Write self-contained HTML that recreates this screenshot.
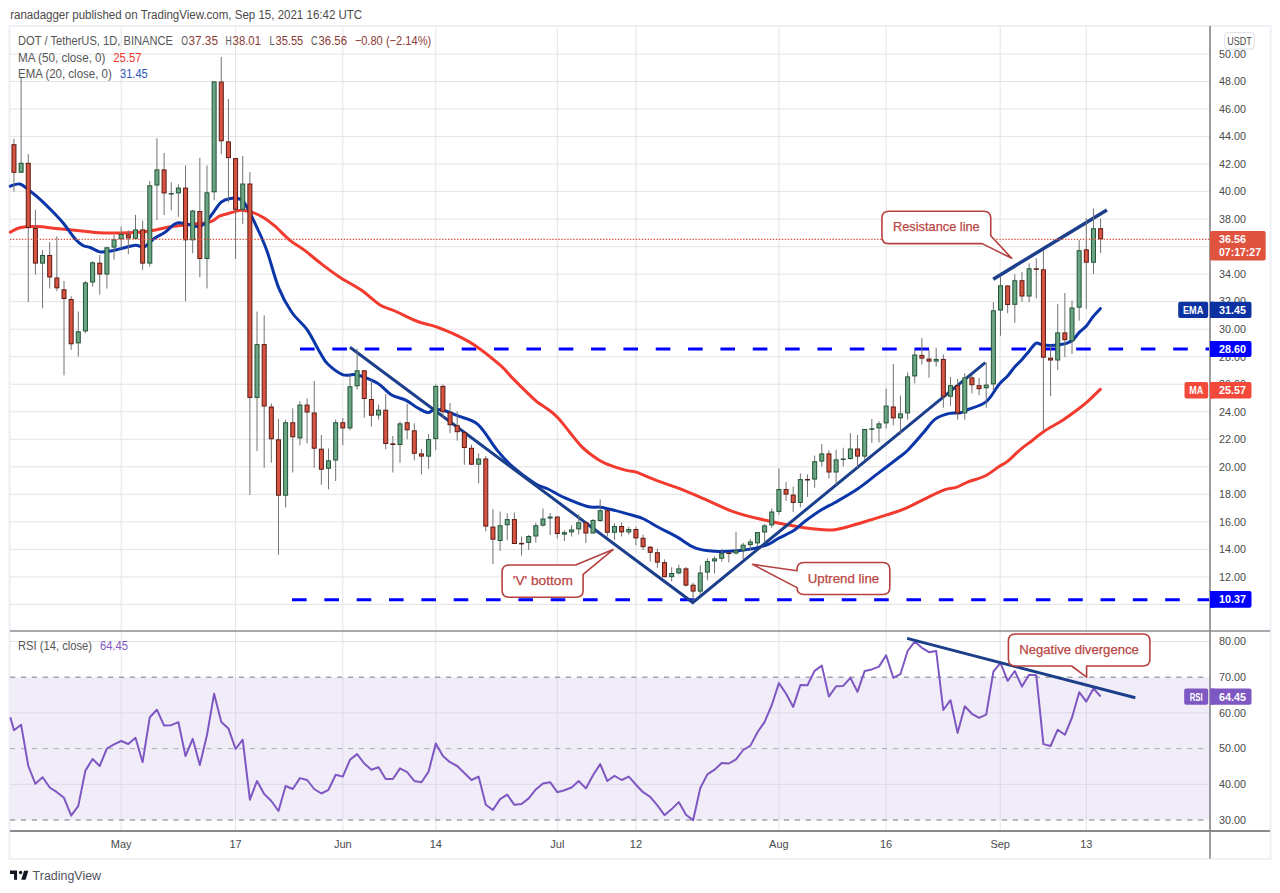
<!DOCTYPE html>
<html><head><meta charset="utf-8"><title>DOT/USDT chart</title>
<style>html,body{margin:0;padding:0;background:#fff;width:1280px;height:893px;overflow:hidden}</style>
</head><body>
<svg width="1280" height="893" viewBox="0 0 1280 893" style="display:block;font-family:'Liberation Sans', sans-serif"><rect x="0" y="0" width="1280" height="893" fill="#ffffff"/><text x="10.2" y="18.8" font-size="12" fill="#4a4a4a" textLength="352" lengthAdjust="spacingAndGlyphs">ranadagger published on TradingView.com, Sep 15, 2021 16:42 UTC</text><rect x="9.5" y="26" width="1261" height="833" fill="none" stroke="#EEF0F5" stroke-width="2"/><path d="M10 604.40H1210 M10 576.88H1210 M10 549.36H1210 M10 521.84H1210 M10 494.32H1210 M10 466.80H1210 M10 439.28H1210 M10 411.76H1210 M10 384.24H1210 M10 356.72H1210 M10 329.20H1210 M10 301.68H1210 M10 274.16H1210 M10 246.64H1210 M10 219.12H1210 M10 191.60H1210 M10 164.08H1210 M10 136.56H1210 M10 109.04H1210 M10 81.52H1210 M10 54.00H1210 M121.20 27V831 M235.60 27V831 M342.80 27V831 M435.80 27V831 M557.30 27V831 M635.90 27V831 M778.90 27V831 M886.10 27V831 M1000.20 27V831 M1086.30 27V831 M10 641.55H1210 M10 712.93H1210 M10 784.31H1210" stroke="#E4E4E6" stroke-width="1" fill="none"/><rect x="10" y="677.24" width="1200" height="142.76" fill="#F1EDF8"/><path d="M10 712.93H1210 M10 784.31H1210 M121.20 677.24V820.00 M235.60 677.24V820.00 M342.80 677.24V820.00 M435.80 677.24V820.00 M557.30 677.24V820.00 M635.90 677.24V820.00 M778.90 677.24V820.00 M886.10 677.24V820.00 M1000.20 677.24V820.00 M1086.30 677.24V820.00" stroke="#DDD8E8" stroke-width="1" fill="none"/><path d="M10 677.24H1210 M10 820.00H1210" stroke="#A3A3AD" stroke-width="1.4" stroke-dasharray="5.2 5.7" fill="none"/><path d="M10 748.62H1210" stroke="#ABABB5" stroke-width="1" stroke-dasharray="5.2 5.7" fill="none"/><path d="M300 349H1209" stroke="#0000FF" stroke-width="3" stroke-dasharray="14.6 17.74" fill="none"/><path d="M292 599.8H1209" stroke="#0000FF" stroke-width="3" stroke-dasharray="14.6 17.74" fill="none"/><path d="M10.3 232.2 C12.0 231.4 16.1 228.4 20.6 227.5 C25.1 226.6 31.6 226.4 37.5 226.6 C43.4 226.8 48.4 227.6 56.2 228.4 C64.1 229.2 77.2 230.5 84.4 231.2 C91.6 232.0 94.7 232.4 99.4 232.8 C104.1 233.1 105.9 233.2 112.5 233.1 C119.1 233.0 131.9 232.7 138.8 232.2 C145.6 231.7 148.8 231.2 153.8 230.3 C158.8 229.5 163.1 228.0 168.8 227.1 C174.4 226.2 180.6 225.6 187.5 224.7 C194.4 223.8 204.7 223.3 210.0 221.9 C215.3 220.5 216.1 217.7 219.4 216.2 C222.7 214.8 226.4 214.0 230.0 213.0 C233.6 212.0 237.2 210.3 241.2 210.3 C245.3 210.3 250.7 211.8 254.4 213.1 C258.1 214.3 260.3 215.6 263.8 217.8 C267.2 220.0 270.6 222.5 275.0 226.2 C279.4 230.0 285.0 236.2 290.0 240.3 C295.0 244.4 300.0 246.8 305.0 250.6 C310.0 254.3 314.1 258.3 320.0 262.8 C325.9 267.3 333.7 273.3 340.6 277.8 C347.5 282.3 354.7 285.5 361.2 290.0 C367.8 294.5 374.4 301.5 380.0 305.0 C385.6 308.5 388.8 308.2 395.0 311.0 C401.2 313.8 411.2 319.1 417.5 321.5 C423.8 323.9 428.4 324.4 432.5 325.6 C436.6 326.9 437.9 327.4 441.9 329.0 C445.9 330.6 450.6 332.2 456.3 335.1 C462.1 338.0 469.1 341.4 476.4 346.4 C483.7 351.4 493.9 359.7 500.2 365.2 C506.5 370.7 508.1 373.8 514.0 379.6 C519.9 385.5 530.3 395.8 535.3 400.3 C540.3 404.8 540.3 403.6 544.1 406.6 C547.9 409.5 551.6 411.1 557.9 417.8 C564.2 424.5 574.9 439.8 581.9 446.9 C588.9 454.0 594.4 457.1 599.7 460.4 C605.0 463.7 608.9 464.9 613.8 466.6 C618.6 468.4 625.0 470.0 628.8 470.9 C632.5 471.8 631.6 470.6 636.2 472.2 C640.9 473.8 650.3 478.1 656.9 480.6 C663.5 483.1 668.4 484.4 675.6 487.2 C682.8 489.9 690.3 493.0 700.0 497.1 C709.7 501.2 722.8 508.0 733.8 511.9 C744.7 515.8 756.6 518.1 765.6 520.3 C774.6 522.5 780.2 523.6 788.0 525.0 C795.8 526.4 804.7 528.0 812.5 528.8 C820.3 529.5 826.6 530.8 835.0 529.7 C843.4 528.6 854.2 524.7 863.0 522.2 C871.8 519.7 880.3 517.1 887.5 514.7 C894.7 512.4 900.0 510.8 906.2 508.1 C912.5 505.4 918.7 501.8 925.0 498.8 C931.3 495.7 939.1 491.6 944.3 489.8 C949.5 487.9 952.2 488.6 956.0 487.4 C959.8 486.2 962.2 484.2 967.0 482.3 C971.8 480.4 979.8 478.6 985.0 476.0 C990.2 473.4 994.6 469.5 998.4 467.0 C1002.2 464.5 1004.2 464.0 1007.8 461.1 C1011.4 458.2 1015.9 453.3 1020.0 449.8 C1024.1 446.3 1028.6 443.3 1032.6 440.2 C1036.6 437.1 1038.9 434.7 1043.9 431.4 C1048.9 428.1 1057.1 423.8 1062.7 420.2 C1068.3 416.6 1073.5 412.6 1077.7 409.5 C1081.9 406.4 1084.0 404.7 1087.8 401.4 C1091.6 398.0 1098.2 391.4 1100.3 389.4" fill="none" stroke="#F23A2E" stroke-width="3" stroke-linejoin="round" stroke-linecap="round"/><path d="M10.3 186.2 C11.9 185.9 16.4 183.2 19.7 184.0 C23.0 184.8 26.4 188.3 30.0 191.0 C33.6 193.7 37.2 196.6 41.2 200.3 C45.3 204.0 50.6 209.5 54.4 213.4 C58.1 217.3 60.3 219.5 63.8 223.8 C67.2 228.0 71.9 235.2 75.0 238.8 C78.1 242.3 80.0 243.8 82.5 245.3 C85.0 246.8 87.4 246.4 90.3 247.5 C93.2 248.6 96.6 251.3 99.7 251.9 C102.8 252.5 105.5 251.8 109.0 251.3 C112.5 250.8 116.0 249.8 120.4 248.8 C124.8 247.8 131.4 245.6 135.4 245.3 C139.4 245.0 141.1 248.0 144.2 246.9 C147.3 245.8 150.3 241.2 153.8 238.8 C157.2 236.3 160.9 234.9 165.0 232.2 C169.1 229.5 172.8 223.7 178.1 222.8 C183.4 221.9 192.5 226.4 196.9 226.6 C201.3 226.8 201.9 225.8 204.4 223.8 C206.9 221.7 209.1 218.0 211.9 214.4 C214.7 210.8 218.1 204.9 221.2 202.2 C224.4 199.5 227.6 198.9 230.6 198.4 C233.6 197.9 237.0 198.1 239.4 199.0 C241.8 199.9 241.9 198.6 245.0 203.8 C248.1 208.9 254.4 221.9 258.1 230.0 C261.9 238.1 264.1 242.8 267.5 252.5 C270.9 262.2 274.7 278.1 278.8 288.1 C282.8 298.1 287.2 305.6 291.9 312.5 C296.6 319.4 302.2 322.7 306.9 329.4 C311.6 336.1 316.6 346.8 320.0 352.5 C323.4 358.2 323.8 360.1 327.5 363.8 C331.2 367.4 338.1 372.8 342.5 374.6 C346.9 376.4 350.6 374.4 353.8 374.6 C356.9 374.8 357.2 374.5 361.2 376.0 C365.3 377.5 373.0 380.3 378.0 383.4 C383.0 386.5 386.5 391.9 391.2 394.7 C396.0 397.5 401.9 398.1 406.2 400.3 C410.6 402.5 413.9 405.8 417.5 407.8 C421.1 409.8 425.0 412.2 427.8 412.5 C430.6 412.8 431.4 409.9 434.4 409.7 C437.4 409.4 441.5 409.9 445.6 411.0 C449.7 412.1 453.4 414.0 458.8 416.2 C464.1 418.5 471.3 418.7 477.8 424.4 C484.3 430.1 491.7 443.6 497.5 450.6 C503.3 457.6 506.2 461.1 512.5 466.6 C518.8 472.1 529.1 479.7 535.0 483.4 C540.9 487.1 543.0 486.6 548.0 489.0 C553.0 491.4 558.4 495.0 565.0 497.9 C571.6 500.8 581.6 504.9 587.5 506.5 C593.4 508.1 595.9 506.6 600.6 507.2 C605.3 507.9 610.3 509.3 615.6 510.6 C620.9 511.9 627.8 513.9 632.5 515.3 C637.2 516.7 639.4 517.0 643.8 519.0 C648.1 521.0 653.2 524.5 658.8 527.5 C664.3 530.5 670.8 533.5 676.9 536.9 C683.0 540.3 689.2 545.7 695.6 548.1 C702.0 550.5 708.0 550.8 715.0 551.2 C722.0 551.7 730.9 551.2 737.5 550.7 C744.1 550.2 749.1 549.6 754.4 548.4 C759.7 547.2 765.3 545.5 769.4 543.8 C773.5 542.0 774.7 540.3 778.8 538.1 C782.8 535.9 789.4 533.4 793.8 530.6 C798.1 527.8 800.3 524.8 805.0 521.2 C809.7 517.8 816.9 512.7 821.9 509.6 C826.9 506.5 829.1 505.9 835.0 502.5 C840.9 499.1 850.3 493.9 857.5 489.0 C864.7 484.1 871.1 478.6 878.0 473.4 C884.9 468.1 893.8 461.4 898.8 457.5 C903.8 453.6 903.9 454.1 908.0 450.0 C912.1 445.9 918.6 438.2 923.1 433.1 C927.6 428.0 930.8 422.4 935.2 419.1 C939.6 415.8 945.4 414.4 949.6 413.4 C953.8 412.3 957.2 413.4 960.2 412.8 C963.3 412.2 963.5 411.6 967.8 409.7 C972.1 407.8 981.1 405.8 986.3 401.6 C991.5 397.4 995.2 389.0 998.8 384.7 C1002.3 380.4 1004.9 378.9 1007.6 375.9 C1010.3 372.9 1012.8 369.1 1015.1 366.5 C1017.4 363.9 1019.1 362.7 1021.4 360.2 C1023.7 357.7 1026.5 354.2 1028.9 351.4 C1031.3 348.6 1033.7 344.4 1035.8 343.3 C1037.9 342.2 1039.0 344.1 1041.4 344.5 C1043.8 344.9 1047.1 345.4 1050.2 345.4 C1053.3 345.4 1057.5 344.9 1060.2 344.5 C1063.0 344.1 1064.3 344.1 1066.5 343.3 C1068.7 342.5 1071.3 341.3 1073.4 339.5 C1075.5 337.7 1076.8 334.9 1079.0 332.6 C1081.2 330.3 1084.3 328.3 1086.6 325.7 C1088.9 323.1 1090.5 319.9 1092.8 317.0 C1095.1 314.1 1099.1 310.0 1100.4 308.6" fill="none" stroke="#0B36AA" stroke-width="3" stroke-linejoin="round" stroke-linecap="round"/><path d="M350 347.3 L692.8 602.5 L985.3 362.6" stroke="#1B3F8B" stroke-width="3" fill="none" stroke-linejoin="miter"/><path d="M993.2 279.2 L1106.9 210" stroke="#1B3F8B" stroke-width="3.5" fill="none"/><path d="M13.96 138.90V191.50 M21.11 78.00V172.75 M28.26 154.00V302.10 M35.41 209.70V274.50 M42.56 250.00V308.30 M49.70 242.00V288.50 M56.85 236.30V291.20 M64.00 281.00V375.30 M71.15 296.20V349.80 M78.30 311.50V356.60 M85.45 281.10V333.30 M92.60 261.30V286.60 M99.75 255.00V294.50 M106.90 247.00V288.50 M114.05 235.00V259.60 M121.19 226.60V249.00 M128.34 230.30V254.20 M135.49 214.90V238.80 M142.64 220.60V269.80 M149.79 181.00V266.60 M156.94 138.20V220.00 M164.09 153.00V215.00 M171.24 182.30V210.30 M178.39 184.40V216.80 M185.54 165.50V301.20 M192.69 209.70V253.40 M199.83 157.75V277.20 M206.98 165.50V288.40 M214.13 81.40V200.30 M221.28 56.90V154.20 M228.43 99.10V202.20 M235.58 157.90V259.00 M242.73 155.90V224.00 M249.88 172.20V495.00 M257.03 311.60V451.00 M264.18 315.30V467.80 M271.32 403.50V462.75 M278.47 419.00V554.75 M285.62 419.60V507.50 M292.77 408.40V472.50 M299.92 401.25V445.30 M307.07 398.40V443.40 M314.22 381.00V467.80 M321.37 435.00V484.70 M328.52 448.50V489.40 M335.66 419.60V481.00 M342.81 418.00V445.30 M349.96 375.00V430.30 M357.11 348.75V389.60 M364.26 370.00V417.75 M371.41 379.70V426.60 M378.56 404.60V419.60 M385.71 394.10V449.10 M392.86 436.00V472.50 M400.01 421.50V462.75 M407.15 403.70V439.30 M414.30 423.40V460.30 M421.45 449.00V474.40 M428.60 434.00V468.75 M435.75 384.40V450.00 M442.90 384.40V418.00 M450.05 403.10V433.10 M457.20 411.60V440.60 M464.35 432.00V464.70 M471.50 444.60V464.70 M478.64 453.40V483.40 M485.79 455.90V531.25 M492.94 509.10V564.10 M500.09 511.60V551.00 M507.24 513.40V540.25 M514.39 512.50V544.00 M521.54 536.50V555.60 M528.69 535.00V550.00 M535.84 522.80V542.50 M542.99 508.40V526.60 M550.13 513.00V535.00 M557.28 516.00V538.40 M564.43 530.30V541.00 M571.58 525.25V536.50 M578.73 514.40V534.60 M585.88 521.00V542.90 M593.03 519.00V533.50 M600.18 499.40V521.90 M607.33 510.00V536.50 M614.48 523.40V539.70 M621.62 522.25V536.50 M628.77 526.60V534.60 M635.92 526.60V545.30 M643.07 534.60V550.00 M650.22 546.00V561.60 M657.37 548.70V567.80 M664.52 559.40V577.20 M671.67 567.25V581.50 M678.82 564.60V574.40 M685.97 566.90V586.60 M693.12 582.80V601.00 M700.26 565.40V594.60 M707.41 558.60V580.20 M714.56 556.50V573.40 M721.71 549.00V561.60 M728.86 552.20V562.50 M736.01 532.10V554.60 M743.16 542.80V559.10 M750.31 539.00V550.30 M757.46 532.00V546.00 M764.61 524.00V542.80 M771.75 508.50V527.80 M778.90 468.40V514.70 M786.05 481.90V501.00 M793.20 486.60V511.90 M800.35 473.40V507.20 M807.50 474.40V496.90 M814.65 455.60V487.90 M821.80 444.00V466.50 M828.95 450.40V478.50 M836.10 449.60V484.70 M843.24 447.75V466.50 M850.39 433.10V459.75 M857.54 435.00V467.80 M864.69 429.00V459.75 M871.84 419.00V442.90 M878.99 421.20V442.60 M886.14 388.70V428.50 M893.29 364.10V425.30 M900.44 395.60V435.00 M907.59 372.40V419.70 M914.73 350.10V383.30 M921.88 338.20V364.50 M929.03 350.10V377.70 M936.18 347.80V366.60 M943.33 354.50V407.80 M950.48 377.00V405.90 M957.63 378.90V419.70 M964.78 373.30V419.70 M971.93 374.50V393.40 M979.08 377.90V395.20 M986.22 362.40V407.80 M993.37 302.20V390.30 M1000.52 276.50V335.80 M1007.67 285.50V313.20 M1014.82 274.20V322.90 M1021.97 272.10V301.90 M1029.12 263.30V302.00 M1036.27 258.30V298.40 M1043.42 250.20V430.80 M1050.57 345.20V396.20 M1057.71 303.90V370.25 M1064.86 293.00V357.10 M1072.01 300.50V354.00 M1079.16 240.00V320.70 M1086.31 218.20V309.00 M1093.46 208.50V274.00 M1100.61 218.50V253.00" stroke="#737375" stroke-width="1" fill="none"/><g fill="#6BA583" stroke="#225437" stroke-width="1"><rect x="19.11" y="163.30" width="4" height="8.95"/><rect x="40.56" y="255.50" width="4" height="7.60"/><rect x="76.30" y="331.80" width="4" height="11.10"/><rect x="83.45" y="282.90" width="4" height="48.00"/><rect x="90.60" y="262.80" width="4" height="19.20"/><rect x="104.90" y="247.80" width="4" height="26.20"/><rect x="112.05" y="239.80" width="4" height="7.30"/><rect x="119.19" y="234.50" width="4" height="4.30"/><rect x="133.49" y="229.90" width="4" height="8.40"/><rect x="147.79" y="185.80" width="4" height="77.30"/><rect x="154.94" y="169.90" width="4" height="15.10"/><rect x="169.24" y="193.50" width="4" height="0.50"/><rect x="176.39" y="188.10" width="4" height="4.80"/><rect x="190.69" y="211.10" width="4" height="28.70"/><rect x="204.98" y="192.80" width="4" height="65.70"/><rect x="212.13" y="81.90" width="4" height="109.90"/><rect x="240.73" y="184.00" width="4" height="25.25"/><rect x="255.03" y="344.60" width="4" height="52.80"/><rect x="283.62" y="422.75" width="4" height="72.45"/><rect x="297.92" y="405.10" width="4" height="32.80"/><rect x="326.52" y="460.80" width="4" height="7.45"/><rect x="333.66" y="422.75" width="4" height="37.25"/><rect x="347.96" y="386.75" width="4" height="41.15"/><rect x="355.11" y="370.80" width="4" height="14.95"/><rect x="376.56" y="410.20" width="4" height="4.80"/><rect x="398.01" y="423.90" width="4" height="20.60"/><rect x="426.60" y="439.60" width="4" height="16.50"/><rect x="433.75" y="386.40" width="4" height="52.20"/><rect x="476.64" y="459.00" width="4" height="5.20"/><rect x="498.09" y="525.75" width="4" height="14.75"/><rect x="505.24" y="519.60" width="4" height="5.15"/><rect x="526.69" y="536.50" width="4" height="5.90"/><rect x="533.84" y="525.75" width="4" height="10.25"/><rect x="540.99" y="519.00" width="4" height="6.10"/><rect x="548.13" y="517.10" width="4" height="0.90"/><rect x="562.43" y="532.70" width="4" height="1.40"/><rect x="569.58" y="529.90" width="4" height="2.00"/><rect x="576.73" y="522.75" width="4" height="6.15"/><rect x="591.03" y="520.50" width="4" height="12.50"/><rect x="598.18" y="510.75" width="4" height="9.75"/><rect x="612.48" y="526.50" width="4" height="5.75"/><rect x="626.77" y="529.50" width="4" height="2.40"/><rect x="669.67" y="573.50" width="4" height="3.20"/><rect x="676.82" y="568.90" width="4" height="4.00"/><rect x="698.26" y="573.00" width="4" height="18.10"/><rect x="705.41" y="561.60" width="4" height="10.50"/><rect x="712.56" y="558.90" width="4" height="2.00"/><rect x="719.71" y="553.60" width="4" height="4.65"/><rect x="734.01" y="550.80" width="4" height="2.20"/><rect x="741.16" y="545.20" width="4" height="5.00"/><rect x="748.31" y="542.00" width="4" height="2.60"/><rect x="755.46" y="532.60" width="4" height="10.30"/><rect x="762.61" y="525.90" width="4" height="6.10"/><rect x="769.75" y="512.00" width="4" height="12.90"/><rect x="776.90" y="489.50" width="4" height="21.90"/><rect x="798.35" y="479.60" width="4" height="22.80"/><rect x="812.65" y="461.75" width="4" height="17.35"/><rect x="819.80" y="453.90" width="4" height="7.20"/><rect x="834.10" y="459.90" width="4" height="12.10"/><rect x="841.24" y="459.00" width="4" height="0.50"/><rect x="848.39" y="449.00" width="4" height="9.50"/><rect x="862.69" y="429.50" width="4" height="26.60"/><rect x="869.84" y="428.80" width="4" height="0.50"/><rect x="876.99" y="423.90" width="4" height="4.00"/><rect x="884.14" y="406.10" width="4" height="16.80"/><rect x="898.44" y="413.90" width="4" height="4.00"/><rect x="905.59" y="376.90" width="4" height="36.00"/><rect x="912.73" y="355.00" width="4" height="20.90"/><rect x="934.18" y="359.40" width="4" height="1.70"/><rect x="948.48" y="385.70" width="4" height="10.50"/><rect x="962.78" y="377.90" width="4" height="35.00"/><rect x="984.22" y="385.10" width="4" height="2.70"/><rect x="991.37" y="310.80" width="4" height="73.10"/><rect x="998.52" y="285.80" width="4" height="24.20"/><rect x="1012.82" y="280.75" width="4" height="23.55"/><rect x="1027.12" y="268.80" width="4" height="27.20"/><rect x="1055.71" y="332.90" width="4" height="27.10"/><rect x="1070.01" y="308.00" width="4" height="32.70"/><rect x="1077.16" y="250.70" width="4" height="56.50"/><rect x="1091.46" y="228.70" width="4" height="33.50"/></g><g fill="#D75442" stroke="#5B1A13" stroke-width="1"><rect x="11.96" y="144.70" width="4" height="27.60"/><rect x="26.26" y="163.30" width="4" height="64.20"/><rect x="33.41" y="228.50" width="4" height="34.60"/><rect x="47.70" y="255.50" width="4" height="21.50"/><rect x="54.85" y="278.00" width="4" height="9.80"/><rect x="62.00" y="289.80" width="4" height="8.70"/><rect x="69.15" y="299.50" width="4" height="44.30"/><rect x="97.75" y="263.20" width="4" height="10.80"/><rect x="126.34" y="234.80" width="4" height="3.10"/><rect x="140.64" y="229.90" width="4" height="33.20"/><rect x="162.09" y="169.90" width="4" height="23.00"/><rect x="183.54" y="188.10" width="4" height="51.70"/><rect x="197.83" y="211.50" width="4" height="47.00"/><rect x="219.28" y="82.10" width="4" height="58.65"/><rect x="226.43" y="141.90" width="4" height="15.70"/><rect x="233.58" y="158.60" width="4" height="50.65"/><rect x="247.88" y="184.00" width="4" height="213.40"/><rect x="262.18" y="344.60" width="4" height="61.40"/><rect x="269.32" y="407.00" width="4" height="31.80"/><rect x="276.47" y="439.80" width="4" height="55.40"/><rect x="290.77" y="422.75" width="4" height="14.00"/><rect x="305.07" y="405.10" width="4" height="6.90"/><rect x="312.22" y="413.00" width="4" height="35.20"/><rect x="319.37" y="449.20" width="4" height="20.00"/><rect x="340.81" y="422.75" width="4" height="5.15"/><rect x="362.26" y="370.80" width="4" height="27.70"/><rect x="369.41" y="399.50" width="4" height="15.70"/><rect x="383.71" y="410.20" width="4" height="33.30"/><rect x="390.86" y="443.90" width="4" height="0.60"/><rect x="405.15" y="422.75" width="4" height="7.05"/><rect x="412.30" y="430.80" width="4" height="22.45"/><rect x="419.45" y="453.90" width="4" height="2.20"/><rect x="440.90" y="386.40" width="4" height="25.20"/><rect x="448.05" y="412.60" width="4" height="12.15"/><rect x="455.20" y="425.75" width="4" height="5.95"/><rect x="462.35" y="432.70" width="4" height="14.80"/><rect x="469.50" y="448.30" width="4" height="15.90"/><rect x="483.79" y="459.00" width="4" height="67.10"/><rect x="490.94" y="527.10" width="4" height="12.10"/><rect x="512.39" y="519.60" width="4" height="23.90"/><rect x="519.54" y="543.40" width="4" height="0.50"/><rect x="555.28" y="517.10" width="4" height="16.40"/><rect x="583.88" y="522.75" width="4" height="10.25"/><rect x="605.33" y="510.75" width="4" height="21.50"/><rect x="619.62" y="526.50" width="4" height="5.40"/><rect x="633.92" y="529.50" width="4" height="8.40"/><rect x="641.07" y="538.30" width="4" height="8.40"/><rect x="648.22" y="547.20" width="4" height="5.10"/><rect x="655.37" y="552.75" width="4" height="9.35"/><rect x="662.52" y="562.70" width="4" height="14.00"/><rect x="683.97" y="568.90" width="4" height="16.20"/><rect x="691.12" y="585.20" width="4" height="5.90"/><rect x="726.86" y="553.00" width="4" height="0.50"/><rect x="784.05" y="489.50" width="4" height="4.60"/><rect x="791.20" y="495.10" width="4" height="7.30"/><rect x="805.50" y="479.50" width="4" height="0.50"/><rect x="826.95" y="453.90" width="4" height="18.10"/><rect x="855.54" y="449.00" width="4" height="7.10"/><rect x="891.29" y="407.00" width="4" height="10.90"/><rect x="919.88" y="355.40" width="4" height="2.70"/><rect x="927.03" y="359.10" width="4" height="2.00"/><rect x="941.33" y="359.40" width="4" height="36.80"/><rect x="955.63" y="385.70" width="4" height="27.20"/><rect x="969.93" y="377.90" width="4" height="6.80"/><rect x="977.08" y="385.70" width="4" height="3.00"/><rect x="1005.67" y="286.00" width="4" height="18.50"/><rect x="1019.97" y="280.75" width="4" height="15.25"/><rect x="1034.27" y="268.80" width="4" height="0.50"/><rect x="1041.42" y="269.80" width="4" height="87.40"/><rect x="1048.57" y="358.20" width="4" height="1.80"/><rect x="1062.86" y="332.90" width="4" height="6.80"/><rect x="1084.31" y="249.80" width="4" height="12.40"/><rect x="1098.61" y="228.70" width="4" height="10.10"/></g><path d="M10 239.45H1210" stroke="#E0533F" stroke-width="1.3" stroke-dasharray="1.4 1.58" fill="none"/><polyline points="10.3,717.2 14.0,730.3 21.1,724.7 28.3,766.0 35.4,783.8 42.6,777.2 49.7,787.5 56.9,792.2 64.0,797.8 71.2,815.6 78.3,805.9 85.4,770.6 92.6,759.0 99.7,766.0 106.9,748.5 114.0,744.4 121.2,741.0 128.3,744.0 135.5,737.8 142.6,762.2 149.8,717.2 156.9,709.7 164.1,725.6 171.2,725.2 178.4,722.2 185.5,756.0 192.7,738.8 199.8,765.0 207.0,735.0 214.1,693.8 221.3,721.9 228.4,728.4 235.6,749.0 242.7,739.7 249.9,799.7 257.0,781.0 264.2,794.0 271.3,801.0 278.5,811.0 285.6,786.0 292.8,789.0 299.9,778.1 307.1,780.0 314.2,789.0 321.4,793.5 328.5,789.8 335.7,774.8 342.8,776.6 350.0,759.8 357.1,754.1 364.3,763.5 371.4,769.7 378.6,767.2 385.7,779.0 392.9,779.0 400.0,768.4 407.2,772.1 414.3,781.0 421.5,782.2 428.6,771.6 435.8,743.4 442.9,756.0 450.0,762.2 457.2,766.0 464.3,773.0 471.5,780.0 478.6,776.6 485.8,804.8 492.9,810.0 500.1,799.1 507.2,794.6 514.4,804.8 521.5,804.0 528.7,798.4 535.8,789.4 543.0,783.4 550.1,782.2 557.3,792.2 564.4,790.3 571.6,787.5 578.7,781.0 585.9,788.4 593.0,775.3 600.2,764.1 607.3,781.0 614.5,775.9 621.6,780.0 628.8,776.6 635.9,784.7 643.1,792.2 650.2,796.9 657.4,805.3 664.5,815.2 671.7,809.1 678.8,802.1 686.0,814.7 693.1,820.3 700.3,788.0 707.4,774.4 714.6,769.7 721.7,763.1 728.9,763.5 736.0,759.4 743.2,750.0 750.3,745.9 757.5,732.2 764.6,721.9 771.8,705.0 778.9,683.1 786.1,693.8 793.2,706.9 800.4,685.0 807.5,685.3 814.6,670.9 821.8,665.6 828.9,696.6 836.1,686.2 843.2,685.9 850.4,677.8 857.5,691.9 864.7,670.9 871.8,669.4 879.0,666.6 886.1,655.3 893.3,677.8 900.4,674.2 907.6,651.0 914.7,641.6 921.9,647.8 929.0,652.2 936.2,651.0 943.3,710.0 950.5,700.2 957.6,732.9 964.8,706.2 971.9,713.8 979.1,717.9 986.2,714.7 993.4,671.6 1000.5,662.8 1007.7,680.9 1014.8,671.0 1022.0,686.6 1029.1,674.8 1036.3,675.3 1043.4,744.1 1050.6,746.0 1057.7,729.7 1064.9,734.8 1072.0,717.5 1079.2,692.2 1086.3,701.6 1093.5,688.4 1100.6,696.5" fill="none" stroke="#7E57C2" stroke-width="2" stroke-linejoin="round"/><path d="M907.1 638.4 L1135.3 697.8" stroke="#1B3F8B" stroke-width="3" fill="none"/><path d="M888.9 211.3 H983.75 Q990.75 211.3 990.75 218.3 V235.75 L1011.7 258.3 L982.2 243.65 H888.9 Q881.9 243.65 881.9 236.65 V218.3 Q881.9 211.3 888.9 211.3 Z" fill="#ffffff" stroke="#B5413F" stroke-width="1.6" stroke-linejoin="round"/><text x="893" y="231" font-size="13" fill="#BA4644" stroke="#BA4644" stroke-width="0.25" textLength="86.7" lengthAdjust="spacingAndGlyphs">Resistance line</text><path d="M509.1 565 H575.6 L613.1 549.6 L583.1 574.4 V590.25 Q583.1 597.25 576.1 597.25 H509.1 Q502.1 597.25 502.1 590.25 V572 Q502.1 565 509.1 565 Z" fill="#ffffff" stroke="#B5413F" stroke-width="1.6" stroke-linejoin="round"/><text x="512.8" y="584.6" font-size="13" fill="#BA4644" stroke="#BA4644" stroke-width="0.25" textLength="60" lengthAdjust="spacingAndGlyphs">'V' bottom</text><path d="M804 562.5 H882.8 Q889.8 562.5 889.8 569.5 V587.5 Q889.8 594.5 882.8 594.5 H804 Q797 594.5 797 587.5 V587.6 L752.5 564.4 L797 570.7 V569.5 Q797 562.5 804 562.5 Z" fill="#ffffff" stroke="#B5413F" stroke-width="1.6" stroke-linejoin="round"/><text x="807.7" y="582.9" font-size="13" fill="#BA4644" stroke="#BA4644" stroke-width="0.25" textLength="71.5" lengthAdjust="spacingAndGlyphs">Uptrend line</text><path d="M1015.4 634.0 H1142.9 Q1149.9 634.0 1149.9 641.0 V659.0 Q1149.9 666.0 1142.9 666.0 H1086.6 V677.2 L1071.6 666.0 H1015.4 Q1008.4 666.0 1008.4 659.0 V641.0 Q1008.4 634.0 1015.4 634.0 Z" fill="#ffffff" stroke="#B5413F" stroke-width="1.6" stroke-linejoin="round"/><text x="1019.2" y="653.6" font-size="13" fill="#BA4644" stroke="#BA4644" stroke-width="0.25" textLength="119.7" lengthAdjust="spacingAndGlyphs">Negative divergence</text><path d="M10 631H1270" stroke="#8E8E93" stroke-width="1.6" fill="none"/><path d="M10 831H1270" stroke="#626266" stroke-width="1.4" fill="none"/><path d="M1210 26V858.5" stroke="#858589" stroke-width="1.6" fill="none"/><g font-size="12.5" fill="#555555"><text x="18" y="44.8" textLength="155" lengthAdjust="spacingAndGlyphs">DOT / TetherUS, 1D, BINANCE</text><text x="181.2" y="44.8" textLength="6.8" lengthAdjust="spacingAndGlyphs">O</text><text x="188.4" y="44.8" fill="#8C3B35" textLength="29.6" lengthAdjust="spacingAndGlyphs">37.35</text><text x="225.6" y="44.8" textLength="6.2" lengthAdjust="spacingAndGlyphs">H</text><text x="232.6" y="44.8" fill="#8C3B35" textLength="28.4" lengthAdjust="spacingAndGlyphs">38.01</text><text x="269.4" y="44.8" textLength="5.2" lengthAdjust="spacingAndGlyphs">L</text><text x="275.5" y="44.8" fill="#8C3B35" textLength="27.8" lengthAdjust="spacingAndGlyphs">35.55</text><text x="311" y="44.8" textLength="6.6" lengthAdjust="spacingAndGlyphs">C</text><text x="318.5" y="44.8" fill="#8C3B35" textLength="28.5" lengthAdjust="spacingAndGlyphs">36.56</text><text x="354.7" y="44.8" fill="#8C3B35" textLength="76.6" lengthAdjust="spacingAndGlyphs">−0.80 (−2.14%)</text><text x="18" y="61.7" textLength="87.5" lengthAdjust="spacingAndGlyphs">MA (50, close, 0)</text><text x="113.3" y="61.7" fill="#F23A2E" textLength="28.1" lengthAdjust="spacingAndGlyphs">25.57</text><text x="18" y="78.1" textLength="93.7" lengthAdjust="spacingAndGlyphs">EMA (20, close, 0)</text><text x="120" y="78.1" fill="#2E55B8" textLength="27.7" lengthAdjust="spacingAndGlyphs">31.45</text><text x="18" y="650" textLength="74" lengthAdjust="spacingAndGlyphs">RSI (14, close)</text><text x="100" y="650" fill="#7E57C2" textLength="28" lengthAdjust="spacingAndGlyphs">64.45</text></g><g font-size="11" fill="#4a4a4a"><text x="1219" y="580.68" textLength="27" lengthAdjust="spacingAndGlyphs">12.00</text><text x="1219" y="553.16" textLength="27" lengthAdjust="spacingAndGlyphs">14.00</text><text x="1219" y="525.64" textLength="27" lengthAdjust="spacingAndGlyphs">16.00</text><text x="1219" y="498.12" textLength="27" lengthAdjust="spacingAndGlyphs">18.00</text><text x="1219" y="470.60" textLength="27" lengthAdjust="spacingAndGlyphs">20.00</text><text x="1219" y="443.08" textLength="27" lengthAdjust="spacingAndGlyphs">22.00</text><text x="1219" y="415.56" textLength="27" lengthAdjust="spacingAndGlyphs">24.00</text><text x="1219" y="388.04" textLength="27" lengthAdjust="spacingAndGlyphs">26.00</text><text x="1219" y="360.52" textLength="27" lengthAdjust="spacingAndGlyphs">28.00</text><text x="1219" y="333.00" textLength="27" lengthAdjust="spacingAndGlyphs">30.00</text><text x="1219" y="305.48" textLength="27" lengthAdjust="spacingAndGlyphs">32.00</text><text x="1219" y="277.96" textLength="27" lengthAdjust="spacingAndGlyphs">34.00</text><text x="1219" y="250.44" textLength="27" lengthAdjust="spacingAndGlyphs">36.00</text><text x="1219" y="222.92" textLength="27" lengthAdjust="spacingAndGlyphs">38.00</text><text x="1219" y="195.40" textLength="27" lengthAdjust="spacingAndGlyphs">40.00</text><text x="1219" y="167.88" textLength="27" lengthAdjust="spacingAndGlyphs">42.00</text><text x="1219" y="140.36" textLength="27" lengthAdjust="spacingAndGlyphs">44.00</text><text x="1219" y="112.84" textLength="27" lengthAdjust="spacingAndGlyphs">46.00</text><text x="1219" y="85.32" textLength="27" lengthAdjust="spacingAndGlyphs">48.00</text><text x="1219" y="57.80" textLength="27" lengthAdjust="spacingAndGlyphs">50.00</text><text x="1219" y="645.35" textLength="27" lengthAdjust="spacingAndGlyphs">80.00</text><text x="1219" y="681.04" textLength="27" lengthAdjust="spacingAndGlyphs">70.00</text><text x="1219" y="716.73" textLength="27" lengthAdjust="spacingAndGlyphs">60.00</text><text x="1219" y="752.42" textLength="27" lengthAdjust="spacingAndGlyphs">50.00</text><text x="1219" y="788.11" textLength="27" lengthAdjust="spacingAndGlyphs">40.00</text><text x="1219" y="823.80" textLength="27" lengthAdjust="spacingAndGlyphs">30.00</text></g><g font-size="11" fill="#4a4a4a" text-anchor="middle"><text x="121.2" y="847.9">May</text><text x="235.6" y="847.9">17</text><text x="342.8" y="847.9">Jun</text><text x="435.8" y="847.9">14</text><text x="557.3" y="847.9">Jul</text><text x="635.9" y="847.9">12</text><text x="778.9" y="847.9">Aug</text><text x="886.1" y="847.9">16</text><text x="1000.2" y="847.9">Sep</text><text x="1086.3" y="847.9">13</text></g><rect x="1224.8" y="32.6" width="29.4" height="16.6" rx="3" fill="#ffffff" stroke="#DCDFE6" stroke-width="1"/><text x="1227.3" y="45" font-size="10.5" fill="#4a4a4a" textLength="24.6" lengthAdjust="spacingAndGlyphs">USDT</text><rect x="1210" y="231" width="55.7" height="29.4" rx="2" fill="#E0533F"/><text x="1219" y="243.3" font-size="11" font-weight="bold" fill="#ffffff" textLength="27" lengthAdjust="spacingAndGlyphs">36.56</text><text x="1219" y="256.2" font-size="11" font-weight="bold" fill="#ffffff" textLength="42" lengthAdjust="spacingAndGlyphs">07:17:27</text><rect x="1210" y="301.7" width="41.5" height="16.19999999999999" rx="2" fill="#0B32A0"/><rect x="1210" y="301.7" width="4" height="16.19999999999999" fill="#0B32A0"/><text x="1219" y="313.80" font-size="11" font-weight="bold" fill="#ffffff" textLength="27" lengthAdjust="spacingAndGlyphs">31.45</text><rect x="1178.2" y="301.7" width="30.0" height="16.19999999999999" rx="2" fill="#0B32A0"/><text x="1183.00" y="313.80" font-size="10.5" font-weight="bold" fill="#ffffff" textLength="20.4" lengthAdjust="spacingAndGlyphs">EMA</text><rect x="1210" y="341" width="41.5" height="16" rx="2" fill="#0000FF"/><rect x="1210" y="341" width="4" height="16" fill="#0000FF"/><text x="1219" y="353.00" font-size="11" font-weight="bold" fill="#ffffff" textLength="27" lengthAdjust="spacingAndGlyphs">28.60</text><rect x="1210" y="382" width="41.5" height="16.5" rx="2" fill="#F2493A"/><rect x="1210" y="382" width="4" height="16.5" fill="#F2493A"/><text x="1219" y="394.25" font-size="11" font-weight="bold" fill="#ffffff" textLength="27" lengthAdjust="spacingAndGlyphs">25.57</text><rect x="1184.5" y="382" width="23.700000000000045" height="16.5" rx="2" fill="#F2493A"/><text x="1189.35" y="394.25" font-size="10.5" font-weight="bold" fill="#ffffff" textLength="14" lengthAdjust="spacingAndGlyphs">MA</text><rect x="1210" y="591" width="41.5" height="16.799999999999955" rx="2" fill="#0000FF"/><rect x="1210" y="591" width="4" height="16.799999999999955" fill="#0000FF"/><text x="1219" y="603.40" font-size="11" font-weight="bold" fill="#ffffff" textLength="27" lengthAdjust="spacingAndGlyphs">10.37</text><rect x="1210" y="688.5" width="41.5" height="16.200000000000045" rx="2" fill="#7E57C2"/><rect x="1210" y="688.5" width="4" height="16.200000000000045" fill="#7E57C2"/><text x="1219" y="700.60" font-size="11" font-weight="bold" fill="#ffffff" textLength="27" lengthAdjust="spacingAndGlyphs">64.45</text><rect x="1184.2" y="688.5" width="24.0" height="16.200000000000045" rx="2" fill="#7E57C2"/><text x="1189.70" y="700.60" font-size="10.5" font-weight="bold" fill="#ffffff" textLength="13" lengthAdjust="spacingAndGlyphs">RSI</text><g fill="#131722"><path d="M10 870.6H17.03V879.65H14.06V873.9H10z"/><circle cx="20.6" cy="872.5" r="1.7"/><path d="M24.06 870.75H28.4L25.6 879.65H21.25z"/></g><text x="32.6" y="879.8" font-size="12" fill="#50535E" textLength="68.5" lengthAdjust="spacingAndGlyphs">TradingView</text></svg>
</body></html>
